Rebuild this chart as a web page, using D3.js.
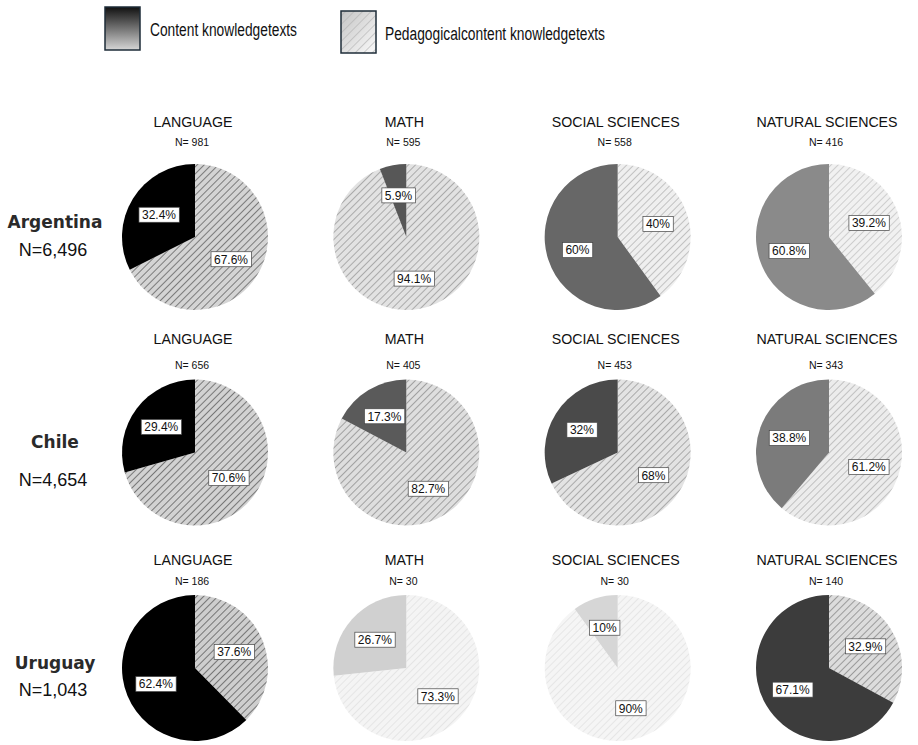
<!DOCTYPE html>
<html>
<head>
<meta charset="utf-8">
<script src="https://cdn.jsdelivr.net/npm/d3@7"></script>
<style>
  html, body { margin: 0; padding: 0; background: #fff; }
  svg { display: block; }
</style>
</head>
<body>
<svg id="chart" width="918" height="745"></svg>
<script>
// ---- data ----
const seriesNames = ["Content knowledgetexts", "Pedagogicalcontent knowledgetexts"];
const countries = ["Argentina", "Chile", "Uruguay"];
const countryN = ["N=6,496", "N=4,654", "N=1,043"];
const subjects = ["LANGUAGE", "MATH", "SOCIAL SCIENCES", "NATURAL SCIENCES"];
const subjectN = [
  [981, 595, 558, 416],
  [656, 405, 453, 343],
  [186, 30, 30, 140]
];
const contentPct = [
  [32.4, 5.9, 60, 60.8],
  [29.4, 17.3, 32, 38.8],
  [62.4, 26.7, 10, 67.1]
];
const pedagogicalPct = [
  [67.6, 94.1, 40, 39.2],
  [70.6, 82.7, 68, 61.2],
  [37.6, 73.3, 90, 32.9]
];

// ---- styling per cell: [solid fill, hatch background, hatch line] ----
const shades = [
  [["#000000", "#d4d4d4", "#4a4a4a"], ["#575757", "#e2e2e2", "#8c8c8c"], ["#676767", "#efefef", "#a9a9a9"], ["#8a8a8a", "#f1f1f1", "#bbbbbb"]],
  [["#000000", "#d2d2d2", "#474747"], ["#5a5a5a", "#dedede", "#7f7f7f"], ["#4a4a4a", "#e3e3e3", "#8a8a8a"], ["#7b7b7b", "#ececec", "#a9a9a9"]],
  [["#000000", "#cecece", "#444444"], ["#d0d0d0", "#f4f4f4", "#dddddd"], ["#d6d6d6", "#f5f5f5", "#dedede"], ["#3c3c3c", "#dcdcdc", "#777777"]]
];

const svg = d3.select("#chart");
const defs = svg.append("defs");
const FONT = "'Liberation Sans', Arial, sans-serif";

// ---- layout scales ----
const x = d3.scalePoint().domain(subjects).range([195, 829]);
const y = d3.scalePoint().domain(countries).range([237, 668]);
const radius = 73;

const pie = d3.pie().sort(null).value(d => d.v);
const arc = d3.arc().innerRadius(0).outerRadius(radius);
const labelArc = d3.arc().innerRadius(radius * 0.58).outerRadius(radius * 0.58);

function hatch(id, bg, line, spacing = 5, width = 1.3) {
  const p = defs.append("pattern")
    .attr("id", id)
    .attr("patternUnits", "userSpaceOnUse")
    .attr("width", spacing).attr("height", spacing)
    .attr("patternTransform", "rotate(45)");
  p.append("rect").attr("width", spacing).attr("height", spacing).attr("fill", bg);
  p.append("line").attr("x1", 0).attr("y1", 0).attr("x2", 0).attr("y2", spacing)
    .attr("stroke", line).attr("stroke-width", width);
  return `url(#${id})`;
}

// ---- legend ----
const g1 = defs.append("linearGradient").attr("id", "legGrad1")
  .attr("x1", 0).attr("y1", 0).attr("x2", 0).attr("y2", 1);
g1.append("stop").attr("offset", 0).attr("stop-color", "#111");
g1.append("stop").attr("offset", 1).attr("stop-color", "#d6d6d6");

const g2 = defs.append("linearGradient").attr("id", "legGrad2")
  .attr("x1", 0).attr("y1", 0).attr("x2", 1).attr("y2", 1);
g2.append("stop").attr("offset", 0).attr("stop-color", "#c4c4c4");
g2.append("stop").attr("offset", 1).attr("stop-color", "#fafafa");

const legend = svg.append("g").attr("class", "legend");
legend.append("rect").attr("x", 105).attr("y", 7).attr("width", 35).attr("height", 43)
  .attr("fill", "url(#legGrad1)").attr("stroke", "#1e2c38").attr("stroke-width", 1.5);
legend.append("rect").attr("x", 341).attr("y", 11).attr("width", 35).attr("height", 42)
  .attr("fill", "url(#legGrad2)");
legend.append("rect").attr("x", 341).attr("y", 11).attr("width", 35).attr("height", 42)
  .attr("fill", hatch("legHatch", "rgba(0,0,0,0)", "#b0b0b0", 6, 1.2))
  .attr("stroke", "#1e2c38").attr("stroke-width", 1.5);
legend.append("text").attr("x", 150).attr("y", 36)
  .attr("font-family", "'Liberation Sans Narrow', " + FONT).attr("font-size", 18)
  .attr("fill", "#111").attr("textLength", 147).attr("lengthAdjust", "spacingAndGlyphs")
  .text(seriesNames[0]);
legend.append("text").attr("x", 385).attr("y", 40)
  .attr("font-family", "'Liberation Sans Narrow', " + FONT).attr("font-size", 18)
  .attr("fill", "#111").attr("textLength", 220).attr("lengthAdjust", "spacingAndGlyphs")
  .text(seriesNames[1]);

// ---- row labels ----
countries.forEach((c, i) => {
  const cy = y(c);
  const offs = [[-9, 13], [-5, 27], [1, 22]][i];
  svg.append("text").attr("x", 55).attr("y", cy + offs[0])
    .attr("text-anchor", "middle")
    .attr("font-family", "'DejaVu Sans', Verdana, sans-serif").attr("font-weight", "bold")
    .attr("font-size", 17).attr("fill", "#2a2a2a")
    .text(c);
  svg.append("text").attr("x", 53).attr("y", cy + offs[1] + 6)
    .attr("text-anchor", "middle")
    .attr("font-family", FONT).attr("font-size", 18).attr("fill", "#111")
    .text(countryN[i]);
});

// ---- pies ----
const titleOffsets = [[-115, -95], [-114, -88], [-108, -87]];
countries.forEach((c, ri) => {
  subjects.forEach((s, ci) => {
    const cx = x(s), cy = y(c);
    const [solid, bg, line] = shades[ri][ci];
    const hatchFill = hatch(`h${ri}${ci}`, bg, line);
    const g = svg.append("g").attr("transform", `translate(${cx},${cy})`);

    g.append("text").attr("x", -2).attr("y", titleOffsets[ri][0] + 5)
      .attr("text-anchor", "middle").attr("font-family", FONT)
      .attr("font-size", 14.2).attr("fill", "#111").text(s);
    g.append("text").attr("x", -3).attr("y", titleOffsets[ri][1] + 4)
      .attr("text-anchor", "middle").attr("font-family", FONT)
      .attr("font-size", 10.5).attr("fill", "#111").text(`N= ${subjectN[ri][ci]}`);

    const slices = pie([
      { k: "ped", v: pedagogicalPct[ri][ci] },
      { k: "content", v: contentPct[ri][ci] }
    ]);

    g.selectAll("path.slice").data(slices).join("path")
      .attr("class", "slice")
      .attr("d", arc)
      .attr("fill", d => d.data.k === "content" ? solid : hatchFill);

    slices.forEach(d => {
      const [lx, ly] = labelArc.centroid(d);
      const lg = g.append("g").attr("transform", `translate(${lx},${ly})`);
      const rect = lg.append("rect").attr("fill", "#fff").attr("stroke", "#444").attr("stroke-width", 0.7);
      const t = lg.append("text").attr("text-anchor", "middle").attr("dy", "0.36em")
        .attr("font-family", FONT).attr("font-size", 12).attr("fill", "#111")
        .text(`${d.data.v}%`);
      const bb = t.node().getBBox();
      rect.attr("x", bb.x - 3).attr("y", -7.5).attr("width", bb.width + 6).attr("height", 15);
    });
  });
});
</script>
</body>
</html>
